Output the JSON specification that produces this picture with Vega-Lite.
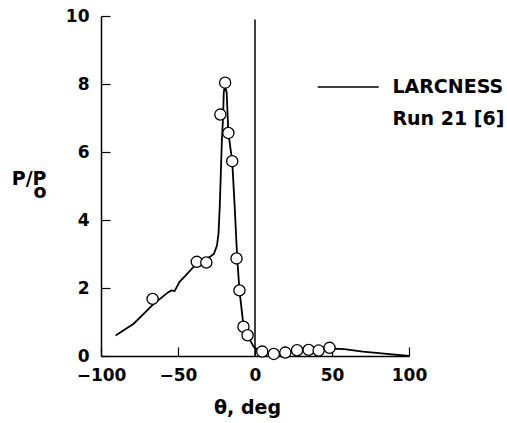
{
  "$schema": "https://vega.github.io/schema/vega-lite/v6.json",
  "width": 308,
  "height": 340,
  "autosize": {"type": "none"},
  "padding": {"left": 101, "top": 16, "right": 98, "bottom": 67},
  "background": "white",
  "config": {
    "view": {"stroke": null},
    "font": "DejaVu Sans",
    "axis": {
      "grid": false,
      "domainColor": "black",
      "domainWidth": 1.5,
      "tickColor": "black",
      "tickWidth": 1.2,
      "tickSize": -9,
      "labelFlush": false,
      "labelOverlap": false,
      "labelFont": "DejaVu Sans",
      "labelFontSize": 17,
      "labelFontWeight": "bold",
      "labelColor": "black",
      "titleFont": "DejaVu Sans",
      "titleFontSize": 19,
      "titleFontWeight": "bold",
      "titleColor": "black"
    }
  },
  "datasets": {
    "larcness": [
      {"theta": -90.5, "p": 0.60, "series": "LARCNESS"},
      {"theta": -78.8, "p": 0.95, "series": "LARCNESS"},
      {"theta": -66.1, "p": 1.52, "series": "LARCNESS"},
      {"theta": -56.5, "p": 1.87, "series": "LARCNESS"},
      {"theta": -54.3, "p": 1.93, "series": "LARCNESS"},
      {"theta": -52.2, "p": 1.91, "series": "LARCNESS"},
      {"theta": -49.0, "p": 2.18, "series": "LARCNESS"},
      {"theta": -44.8, "p": 2.38, "series": "LARCNESS"},
      {"theta": -39.5, "p": 2.64, "series": "LARCNESS"},
      {"theta": -36.3, "p": 2.74, "series": "LARCNESS"},
      {"theta": -29.9, "p": 2.90, "series": "LARCNESS"},
      {"theta": -26.7, "p": 3.00, "series": "LARCNESS"},
      {"theta": -24.7, "p": 3.25, "series": "LARCNESS"},
      {"theta": -23.7, "p": 3.60, "series": "LARCNESS"},
      {"theta": -22.9, "p": 4.38, "series": "LARCNESS"},
      {"theta": -22.2, "p": 5.37, "series": "LARCNESS"},
      {"theta": -21.5, "p": 6.36, "series": "LARCNESS"},
      {"theta": -20.7, "p": 7.05, "series": "LARCNESS"},
      {"theta": -20.3, "p": 7.74, "series": "LARCNESS"},
      {"theta": -19.6, "p": 7.95, "series": "LARCNESS"},
      {"theta": -18.4, "p": 7.75, "series": "LARCNESS"},
      {"theta": -17.3, "p": 6.56, "series": "LARCNESS"},
      {"theta": -14.8, "p": 5.73, "series": "LARCNESS"},
      {"theta": -13.2, "p": 4.40, "series": "LARCNESS"},
      {"theta": -11.6, "p": 2.92, "series": "LARCNESS"},
      {"theta": -10.1, "p": 1.93, "series": "LARCNESS"},
      {"theta": -7.5, "p": 0.90, "series": "LARCNESS"},
      {"theta": -4.8, "p": 0.60, "series": "LARCNESS"},
      {"theta": -0.8, "p": 0.27, "series": "LARCNESS"},
      {"theta": 2, "p": 0.17, "series": "LARCNESS"},
      {"theta": 5, "p": 0.12, "series": "LARCNESS"},
      {"theta": 12, "p": 0.08, "series": "LARCNESS"},
      {"theta": 20, "p": 0.10, "series": "LARCNESS"},
      {"theta": 27, "p": 0.14, "series": "LARCNESS"},
      {"theta": 35, "p": 0.16, "series": "LARCNESS"},
      {"theta": 41, "p": 0.18, "series": "LARCNESS"},
      {"theta": 48, "p": 0.22, "series": "LARCNESS"},
      {"theta": 58, "p": 0.20, "series": "LARCNESS"},
      {"theta": 70, "p": 0.13, "series": "LARCNESS"},
      {"theta": 84, "p": 0.07, "series": "LARCNESS"},
      {"theta": 100, "p": 0.0, "series": "LARCNESS"}
    ],
    "run21": [
      {"theta": -66.5, "p": 1.68, "series": "Run 21 [6]"},
      {"theta": -37.8, "p": 2.77, "series": "Run 21 [6]"},
      {"theta": -31.6, "p": 2.75, "series": "Run 21 [6]"},
      {"theta": -22.5, "p": 7.10, "series": "Run 21 [6]"},
      {"theta": -19.4, "p": 8.04, "series": "Run 21 [6]"},
      {"theta": -17.3, "p": 6.56, "series": "Run 21 [6]"},
      {"theta": -14.8, "p": 5.73, "series": "Run 21 [6]"},
      {"theta": -12.0, "p": 2.87, "series": "Run 21 [6]"},
      {"theta": -10.1, "p": 1.93, "series": "Run 21 [6]"},
      {"theta": -7.5, "p": 0.86, "series": "Run 21 [6]"},
      {"theta": -4.8, "p": 0.61, "series": "Run 21 [6]"},
      {"theta": 4.7, "p": 0.13, "series": "Run 21 [6]"},
      {"theta": 12.2, "p": 0.06, "series": "Run 21 [6]"},
      {"theta": 19.7, "p": 0.10, "series": "Run 21 [6]"},
      {"theta": 27.3, "p": 0.17, "series": "Run 21 [6]"},
      {"theta": 34.8, "p": 0.18, "series": "Run 21 [6]"},
      {"theta": 41.3, "p": 0.16, "series": "Run 21 [6]"},
      {"theta": 48.4, "p": 0.24, "series": "Run 21 [6]"}
    ],
    "wall": [
      {"theta": 0, "p": 0, "p2": 9.9}
    ]
  },
  "encoding": {
    "x": {
      "field": "theta",
      "type": "quantitative",
      "scale": {"domain": [-100, 100], "nice": false, "zero": false},
      "axis": {
        "values": [-100, -50, 0, 50, 100],
        "labelPadding": 20,
        "title": "θ, deg",
        "titleX": 146,
        "titleY": 51,
        "titleBaseline": "middle",
        "titleAlign": "center",
        "encode": {"ticks": {"update": {"y2": {"value": -9}}}}
      }
    },
    "y": {
      "field": "p",
      "type": "quantitative",
      "scale": {"domain": [0, 10], "nice": false},
      "axis": {
        "values": [0, 2, 4, 6, 8, 10],
        "labelPadding": 21,
        "title": ["P/P", "o"],
        "titleAngle": 0,
        "titleAlign": "right",
        "titleBaseline": "alphabetic",
        "titleX": -55,
        "titleY": 168,
        "titleLineHeight": 13,
        "encode": {"ticks": {"update": {"x2": {"value": 9}}}}
      }
    }
  },
  "layer": [
    {
      "data": {"name": "wall"},
      "mark": {"type": "rule", "color": "black", "strokeWidth": 1.5},
      "encoding": {"y2": {"field": "p2"}}
    },
    {
      "data": {"name": "larcness"},
      "mark": {"type": "line", "strokeWidth": 1.8, "clip": false},
      "encoding": {
        "stroke": {
          "field": "series",
          "type": "nominal",
          "scale": {"domain": ["LARCNESS", "Run 21 [6]"], "range": ["black", "black"]},
          "legend": {
            "orient": "none",
            "legendX": 215.7,
            "legendY": 61,
            "direction": "vertical",
            "title": null,
            "symbolType": "stroke",
            "symbolSize": 3721,
            "symbolStrokeWidth": 1.5,
            "symbolStrokeColor": "black",
            "clipHeight": 20,
            "rowPadding": 12,
            "labelOffset": 12.7,
            "labelFont": "DejaVu Sans",
            "labelFontSize": 19,
            "labelFontWeight": "bold",
            "labelColor": "black",
            "labelLimit": 250,
            "padding": 0,
            "encode": {
              "symbols": {
                "update": {
                  "opacity": {"signal": "datum.value === 'LARCNESS' ? 1 : 0"}
                }
              }
            }
          }
        }
      }
    },
    {
      "data": {"name": "run21"},
      "mark": {"type": "point", "shape": "circle", "filled": true, "fill": "white", "size": 125, "strokeWidth": 1.3, "opacity": 1, "clip": false},
      "encoding": {
        "stroke": {"field": "series", "type": "nominal"}
      }
    }
  ]
}
